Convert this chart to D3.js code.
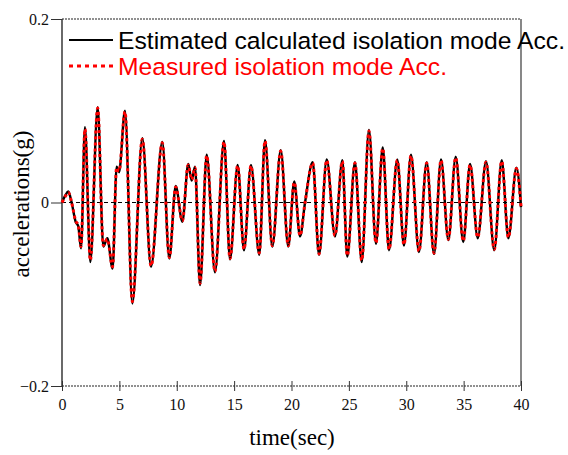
<!DOCTYPE html>
<html>
<head>
<meta charset="utf-8">
<script src="https://cdn.jsdelivr.net/npm/d3@7"></script>
<style>
  body { margin: 0; background: #fff; }
  svg { display: block; }
</style>
</head>
<body>
<svg id="chart" width="568" height="455"></svg>
<script>
// turning points (sec, g)
const time = [0, 0.3, 0.55, 0.84, 1.19, 1.42, 1.66, 2.0, 2.47, 3.11, 3.6, 3.95, 4.41, 4.76, 4.97, 5.49,
  6.13, 7.0, 7.76, 8.74, 9.35, 9.91, 10.49, 11.0, 11.3, 11.59, 12.03, 12.61, 13.33, 14.12, 14.64,
  15.31, 15.86, 16.47, 17.19, 17.69, 18.33, 19.06, 19.72, 20.24, 20.74, 21.18, 21.85, 22.4, 23.07,
  23.79, 24.43, 24.86, 25.53, 26.12, 26.75, 27.36, 27.95, 28.5, 29.22, 29.8, 30.41, 31.11, 31.78,
  32.42, 33.03, 33.67, 34.31, 34.97, 35.56, 36.23, 36.95, 37.67, 38.32, 38.9, 39.6, 40.0];

const estimated = [0, 0.008, 0.012, 0.0, -0.021, -0.026, -0.050, 0.082, -0.065, 0.104, -0.048, -0.039,
  -0.072, 0.039, 0.033, 0.100, -0.110, 0.070, -0.070, 0.066, -0.061, 0.018, -0.021, 0.042, 0.024,
  0.039, -0.090, 0.052, -0.076, 0.067, -0.062, 0.041, -0.052, 0.041, -0.057, 0.068, -0.048, 0.057,
  -0.048, 0.023, -0.037, 0.0, 0.044, -0.057, 0.047, -0.037, 0.046, -0.059, 0.044, -0.065, 0.079,
  -0.045, 0.060, -0.052, 0.047, -0.047, 0.052, -0.054, 0.044, -0.056, 0.047, -0.041, 0.050, -0.043,
  0.042, -0.039, 0.045, -0.052, 0.046, -0.039, 0.038, -0.005];

const measured = [0, 0.007, 0.011, 0.0, -0.020, -0.025, -0.048, 0.080, -0.063, 0.103, -0.047, -0.040,
  -0.070, 0.038, 0.034, 0.099, -0.108, 0.069, -0.069, 0.065, -0.060, 0.017, -0.020, 0.041, 0.025,
  0.038, -0.088, 0.051, -0.075, 0.066, -0.061, 0.040, -0.051, 0.040, -0.055, 0.067, -0.047, 0.056,
  -0.047, 0.022, -0.036, 0.0, 0.043, -0.056, 0.046, -0.036, 0.045, -0.058, 0.043, -0.063, 0.078,
  -0.044, 0.059, -0.051, 0.046, -0.046, 0.051, -0.053, 0.043, -0.055, 0.046, -0.040, 0.049, -0.042,
  0.041, -0.038, 0.044, -0.051, 0.045, -0.038, 0.037, -0.004];

const xTicks = [0, 5, 10, 15, 20, 25, 30, 35, 40];
const yTicks = [-0.2, 0, 0.2];
const legendLabels = ["Estimated calculated isolation mode Acc.", "Measured isolation mode Acc."];

const svg = d3.select("#chart");
const LEFT = 62, RIGHT = 521, TOP = 19, BOTTOM = 386;

const x = d3.scaleLinear().domain([0, 40]).range([LEFT, RIGHT]);
const y = d3.scaleLinear().domain([-0.2, 0.2]).range([BOTTOM, TOP]);

// frame
svg.append("line")
  .attr("x1", LEFT).attr("x2", LEFT).attr("y1", TOP).attr("y2", BOTTOM)
  .attr("stroke", "#444").attr("stroke-width", 1.6);
svg.append("line")
  .attr("x1", RIGHT).attr("x2", RIGHT).attr("y1", TOP).attr("y2", BOTTOM)
  .attr("stroke", "#555").attr("stroke-width", 1.4);
[TOP, BOTTOM].forEach(yy => {
  svg.append("line")
    .attr("x1", LEFT).attr("x2", RIGHT).attr("y1", yy).attr("y2", yy)
    .attr("stroke", "#222").attr("stroke-width", 1.2)
    .attr("stroke-dasharray", "2,1");
});

// zero line
svg.append("line")
  .attr("x1", LEFT).attr("x2", RIGHT).attr("y1", y(0)).attr("y2", y(0))
  .attr("stroke", "#000").attr("stroke-width", 1)
  .attr("stroke-dasharray", "4,3");

// axes
const xAxis = svg.append("g")
  .attr("transform", `translate(0,${BOTTOM})`)
  .call(d3.axisBottom(x).tickValues(xTicks).tickSize(5).tickPadding(8).tickFormat(d3.format("d")));
xAxis.select(".domain").remove();
xAxis.selectAll(".tick line").attr("y1", -5).attr("stroke", "#333");
xAxis.selectAll("text")
  .attr("font-family", "'Liberation Serif', serif").attr("font-size", 16).attr("fill", "#111");

const yAxis = svg.append("g")
  .attr("transform", `translate(${LEFT},0)`)
  .call(d3.axisLeft(y).tickValues(yTicks).tickSize(11).tickPadding(2)
    .tickFormat(d => d === 0 ? "0" : d3.format(".1f")(d)));
yAxis.select(".domain").remove();
yAxis.selectAll(".tick line").attr("stroke", "#333");
yAxis.selectAll("text")
  .attr("font-family", "'Liberation Serif', serif").attr("font-size", 16).attr("fill", "#111");

// titles
svg.append("text")
  .attr("x", 292).attr("y", 445)
  .attr("text-anchor", "middle")
  .attr("font-family", "'Liberation Serif', serif").attr("font-size", 23)
  .text("time(sec)");
svg.append("text")
  .attr("transform", "translate(29,204) rotate(-90)")
  .attr("text-anchor", "middle")
  .attr("font-family", "'Liberation Serif', serif").attr("font-size", 23)
  .text("accelerations(g)");

// series
const line = (vals) => d3.line()
  .x((d, i) => x(time[i]))
  .y(d => y(d))
  .curve(d3.curveMonotoneX)(vals);

svg.append("path")
  .attr("d", line(estimated))
  .attr("fill", "none").attr("stroke", "#000").attr("stroke-width", 2.4);
svg.append("path")
  .attr("d", line(measured))
  .attr("fill", "none").attr("stroke", "#ff0000").attr("stroke-width", 3)
  .attr("stroke-dasharray", "3,3");

// legend
const legend = svg.append("g");
const legendStyles = [
  { color: "#000", dash: null, len: 447 },
  { color: "#ff0000", dash: "4,4", len: 329 }
];
legendLabels.forEach((lab, i) => {
  const ly = 40 + i * 26;
  legend.append("line")
    .attr("x1", 69).attr("x2", 113).attr("y1", ly).attr("y2", ly)
    .attr("stroke", legendStyles[i].color)
    .attr("stroke-width", i === 0 ? 2 : 3)
    .attr("stroke-dasharray", legendStyles[i].dash);
  legend.append("text")
    .attr("x", 118).attr("y", ly + 8.5)
    .attr("font-family", "'Liberation Sans', Arial, sans-serif").attr("font-size", 24.5)
    .attr("textLength", legendStyles[i].len).attr("lengthAdjust", "spacingAndGlyphs")
    .attr("fill", legendStyles[i].color)
    .text(lab);
});
</script>
</body>
</html>
